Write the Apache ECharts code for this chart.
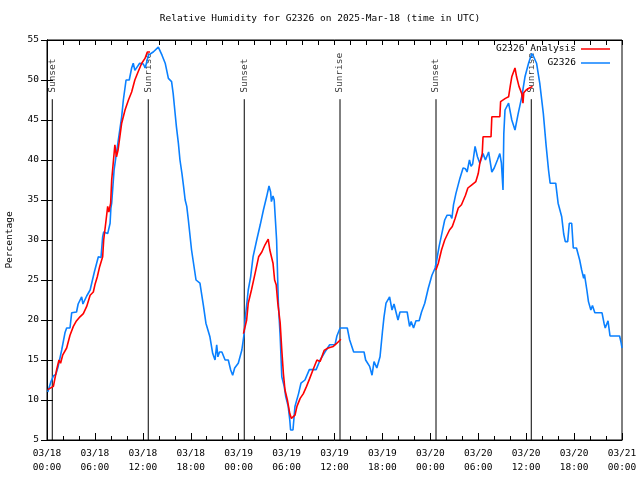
<!DOCTYPE html>
<html><head><meta charset="utf-8">
<script src="https://cdn.jsdelivr.net/npm/echarts@6/dist/echarts.min.js"></script>
<style>html,body{margin:0;padding:0;background:#fff}#c{width:640px;height:480px}</style>
</head><body><div id="c"></div>
<script>
const titleText = 'Relative Humidity for G2326 on 2025-Mar-18 (time in UTC)';
const yAxisName = 'Percentage';
const xTickLabels = ['03/18\n00:00','03/18\n06:00','03/18\n12:00','03/18\n18:00','03/19\n00:00','03/19\n06:00','03/19\n12:00','03/19\n18:00','03/20\n00:00','03/20\n06:00','03/20\n12:00','03/20\n18:00','03/21\n00:00'];
// hours since 03/18 00:00 UTC
const sunEventHours = [0.66, 12.68, 24.7, 36.69, 48.71, 60.64];
const sunEventNames = ['Sunset','Sunrise','Sunset','Sunrise','Sunset','Sunrise'];
const seriesNames = ['G2326 Analysis', 'G2326'];

const obsG2326 = [
[0.1,11.0],[0.5,12.3],[0.8,13.0],[1.1,13.2],[1.4,14.2],[1.84,16.25],[2.25,18.4],[2.46,19.0],[2.88,19.0],[3.09,20.9],
[3.7,21.0],[3.9,22.0],[4.34,22.9],[4.5,22.0],[4.97,23.0],[5.4,23.75],[5.67,24.9],[5.93,26.0],[6.43,27.9],[6.76,27.8],
[6.97,30.4],[7.1,31.0],[7.6,30.8],[7.9,32.1],[8.0,34.0],[8.1,34.6],[8.4,38.75],[8.93,42.5],[9.35,45.4],[9.56,47.5],
[9.9,50.0],[10.3,50.0],[10.6,51.5],[10.8,52.1],[11.0,51.2],[11.2,51.0],[11.4,51.8],[11.6,52.1],[12.06,52.0],[12.3,51.5],
[12.7,53.1],[13.3,53.5],[13.94,54.1],[14.4,53.1],[14.8,52.1],[15.2,50.2],[15.6,49.8],[15.8,48.3],[16.0,46.25],[16.2,44.2],
[16.45,42.1],[16.65,40.0],[16.9,38.3],[17.1,36.7],[17.3,35.0],[17.5,34.2],[17.7,32.5],[18.1,28.75],[18.66,25.0],[19.15,24.6],
[19.6,21.7],[19.9,19.6],[20.4,17.9],[20.75,15.8],[21.04,15.0],[21.25,16.9],[21.4,15.4],[21.6,16.0],[21.9,16.0],[22.3,15.0],
[22.7,15.0],[23.0,13.75],[23.25,13.1],[23.5,14.0],[23.95,14.6],[24.4,16.25],[24.7,18.4],[24.8,20.0],[25.2,23.75],[25.5,25.4],
[25.8,27.9],[26.26,30.0],[26.7,31.9],[27.1,33.75],[27.5,35.4],[27.8,36.75],[28.0,36.0],[28.1,34.8],[28.3,35.5],[28.45,35.0],
[28.75,30.0],[28.97,22.1],[29.2,17.9],[29.4,12.9],[29.7,11.7],[29.9,10.4],[30.2,9.2],[30.4,7.5],[30.5,6.25],[30.8,6.25],
[31.05,9.2],[31.5,10.8],[31.8,12.1],[32.3,12.5],[32.85,13.8],[33.7,13.8],[34.2,15.0],[34.8,16.0],[35.4,16.9],[36.06,16.9],
[36.3,18.0],[36.7,19.0],[37.6,19.0],[37.9,17.5],[38.4,16.0],[39.7,16.0],[39.9,15.0],[40.4,14.2],[40.7,13.1],[40.95,14.8],
[41.3,14.0],[41.5,14.0],[41.7,15.4],[42.0,18.5],[42.2,20.4],[42.45,22.1],[42.7,22.3],[42.9,22.9],[43.2,21.25],[43.45,22.0],
[43.6,22.0],[43.8,20.6],[43.95,20.0],[44.2,21.0],[45.1,21.0],[45.4,19.2],[45.6,19.8],[45.9,19.0],[46.2,19.9],[46.6,19.9],
[46.9,21.0],[47.3,22.1],[47.75,24.0],[48.2,25.6],[48.6,26.5],[48.8,27.5],[49.1,29.2],[49.4,30.6],[49.8,32.5],[50.1,33.1],
[50.5,33.1],[50.7,32.7],[50.9,34.4],[51.2,35.8],[51.7,37.7],[52.1,39.0],[52.4,38.9],[52.6,38.5],[52.9,40.0],[53.1,39.2],
[53.3,39.5],[53.6,41.7],[53.9,40.4],[54.2,39.6],[54.6,40.8],[54.9,40.0],[55.3,41.0],[55.7,38.5],[56.0,39.0],[56.4,40.0],
[56.7,40.8],[56.9,39.6],[57.1,36.25],[57.2,43.3],[57.35,46.25],[57.8,47.1],[58.2,45.0],[58.6,43.75],[59.0,45.8],[59.45,47.9],
[59.85,50.4],[60.3,52.1],[60.7,53.3],[60.9,53.0],[61.3,52.1],[61.7,49.6],[62.15,45.8],[62.5,41.8],[62.8,38.75],[63.0,37.1],
[63.7,37.1],[64.0,34.6],[64.45,32.9],[64.7,30.75],[64.9,29.8],[65.2,29.8],[65.4,32.1],[65.7,32.1],[65.9,29.0],[66.3,29.0],
[66.7,27.5],[66.95,26.25],[67.2,25.2],[67.3,25.7],[67.6,23.75],[67.8,22.3],[68.1,21.25],[68.3,21.8],[68.6,20.9],[69.5,20.9],
[69.75,19.6],[69.9,19.0],[70.25,19.9],[70.5,18.0],[71.7,18.0],[71.9,17.1],[72.0,16.5]
];

const analysisG2326 = [
[0.1,11.3],[0.8,11.7],[1.2,13.75],[1.5,15.0],[1.7,14.6],[1.96,15.6],[2.46,16.5],[2.88,18.1],[3.3,19.2],[3.63,19.8],
[4.13,20.4],[4.55,20.8],[4.97,21.7],[5.4,23.1],[5.8,23.5],[6.0,24.4],[6.3,25.4],[6.6,26.7],[6.97,27.9],[7.1,30.0],
[7.4,32.5],[7.6,34.2],[7.75,33.5],[7.97,34.6],[8.1,37.5],[8.5,41.9],[8.7,40.4],[8.9,41.25],[9.35,44.6],[9.77,46.25],
[10.2,47.5],[10.6,48.5],[11.0,50.0],[11.4,51.0],[11.86,52.1],[12.27,52.7],[12.56,53.5],[12.9,53.5],
[18.0,null],
[24.6,18.3],[25.0,20.0],[25.2,22.1],[25.6,23.75],[26.05,25.8],[26.5,27.9],[26.9,28.5],[27.3,29.4],[27.7,30.1],[27.9,28.75],
[28.3,27.1],[28.5,25.0],[28.7,24.4],[28.9,22.1],[29.2,19.6],[29.4,16.25],[29.6,13.3],[29.8,11.25],[30.1,10.0],[30.4,8.3],
[30.6,7.7],[31.05,8.1],[31.3,9.2],[31.7,10.2],[32.1,10.8],[32.5,11.7],[32.9,12.7],[33.3,13.75],[33.8,15.0],[34.2,14.8],
[34.7,16.2],[35.2,16.5],[35.85,16.7],[36.3,17.1],[36.8,17.6],
[42.0,null],
[48.7,26.25],[49.0,27.1],[49.4,28.75],[49.8,30.0],[50.4,31.25],[50.75,31.7],[51.1,32.7],[51.5,34.0],[51.9,34.4],[52.4,35.6],
[52.7,36.5],[53.2,36.9],[53.7,37.3],[54.0,38.3],[54.2,39.6],[54.5,40.8],[54.6,42.9],[55.6,42.9],[55.7,45.4],[56.7,45.4],
[56.8,47.3],[57.4,47.7],[57.8,47.9],[58.0,49.2],[58.2,50.4],[58.6,51.5],[58.8,50.4],[59.1,49.2],[59.45,48.3],[59.6,47.1],
[59.7,48.4],[60.0,48.75],[60.4,49.0],[60.8,49.2]
];

const FONT = 'DejaVu Sans Mono';
const FS = 9.5;
const lineTop = 47.6;   // top of sun event lines (value units)
const labelBase = 48.4; // bottom of sun event labels

const eventLineData = [];
sunEventHours.forEach(h => { eventLineData.push([h, 5], [h, lineTop], [h, null]); });
const eventLabelData = sunEventHours.map((h, i) => ({ value: [h, labelBase], name: sunEventNames[i] }));

const chart = echarts.init(document.getElementById('c'), null, { renderer: 'canvas' });
const tickCommon = { show: true, inside: true, lineStyle: { color: '#000', width: 1 } };
chart.setOption({
  animation: false,
  backgroundColor: '#fff',
  title: {
    text: titleText, left: 'center', top: 9,
    textStyle: { fontFamily: FONT, fontSize: FS, fontWeight: 'normal', color: '#000' }
  },
  legend: [
    { data: [seriesNames[0]], right: 30, top: 44, padding: 0, orient: 'vertical', align: 'right',
      icon: 'rect', itemWidth: 29, itemHeight: 1.5,
      textStyle: { fontFamily: FONT, fontSize: FS, color: '#000' } },
    { data: [seriesNames[1]], right: 30, top: 58, padding: 0, orient: 'vertical', align: 'right',
      icon: 'rect', itemWidth: 29, itemHeight: 1.5,
      textStyle: { fontFamily: FONT, fontSize: FS, color: '#000' } }
  ],
  grid: { left: 47, right: 18, top: 40, bottom: 40, containLabel: false, outerBoundsMode: 'none',
    show: true, borderColor: '#000', borderWidth: 1 },
  xAxis: [
    { type: 'value', min: 0, max: 72, interval: 6, position: 'bottom',
      axisLine: { show: true, lineStyle: { color: '#000' } },
      axisTick: Object.assign({ length: 7 }, tickCommon),
      minorTick: { show: true, splitNumber: 3, length: 4, lineStyle: { color: '#000' } },
      splitLine: { show: false },
      axisLabel: { margin: 7, fontFamily: FONT, fontSize: FS, color: '#000', lineHeight: 14,
        formatter: v => xTickLabels[Math.round(v / 6)] } },
    { type: 'value', min: 0, max: 72, interval: 6, position: 'top',
      axisLine: { show: true, lineStyle: { color: '#000' } },
      axisTick: Object.assign({ length: 5 }, tickCommon),
      minorTick: { show: true, splitNumber: 3, length: 5, lineStyle: { color: '#000' } },
      splitLine: { show: false }, axisLabel: { show: false } }
  ],
  yAxis: [
    { type: 'value', min: 5, max: 55, interval: 5, position: 'left',
      name: yAxisName, nameLocation: 'middle', nameRotate: 90, nameGap: 32,
      nameTextStyle: { fontFamily: FONT, fontSize: FS, color: '#000' },
      axisLine: { show: true, lineStyle: { color: '#000' } },
      axisTick: Object.assign({ length: 6 }, tickCommon),
      splitLine: { show: false },
      axisLabel: { margin: 8, fontFamily: FONT, fontSize: FS, color: '#000' } },
    { type: 'value', min: 5, max: 55, interval: 5, position: 'right',
      axisLine: { show: true, lineStyle: { color: '#000' } },
      axisTick: Object.assign({ length: 6 }, tickCommon),
      splitLine: { show: false }, axisLabel: { show: false } }
  ],
  series: [
    { name: 'sun-lines', type: 'line', data: eventLineData, showSymbol: false, symbol: 'none',
      connectNulls: false, lineStyle: { color: '#000', width: 1 }, silent: true, z: 1 },
    { name: 'sun-labels', type: 'scatter', data: eventLabelData, symbolSize: 0, silent: true, z: 1,
      label: { show: true, position: 'inside', rotate: 90, align: 'left', verticalAlign: 'middle',
        formatter: p => p.name, fontFamily: FONT, fontSize: FS, color: '#000' } },
    { name: seriesNames[0], type: 'line', data: analysisG2326, showSymbol: false, symbol: 'none',
      connectNulls: false, color: '#ff0000', lineStyle: { color: '#ff0000', width: 1.6 }, z: 3 },
    { name: seriesNames[1], type: 'line', data: obsG2326, showSymbol: false, symbol: 'none',
      color: '#0a80ff', lineStyle: { color: '#0a80ff', width: 1.6 }, z: 2 }
  ]
});
</script>
</body></html>
